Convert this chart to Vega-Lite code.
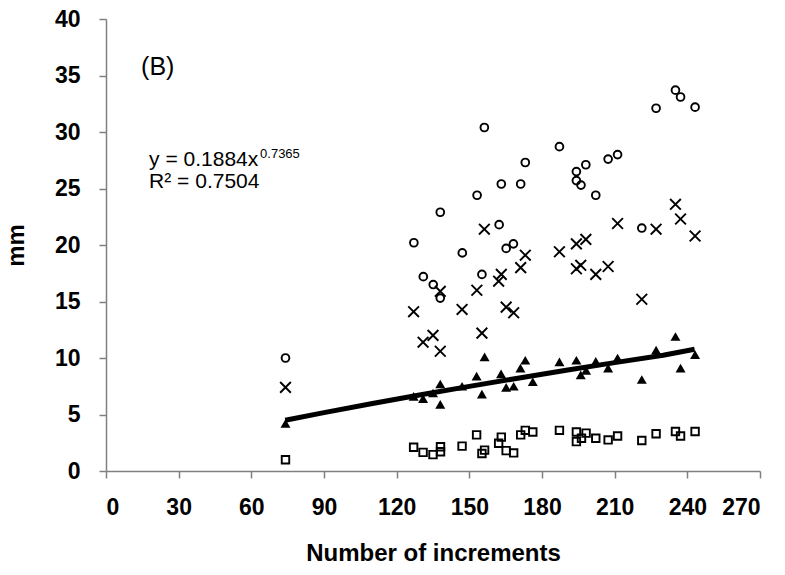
{
  "$schema": "https://vega.github.io/schema/vega-lite/v6.json",
  "width": 654,
  "height": 452,
  "autosize": {"type": "none"},
  "padding": {"left": 106, "top": 19, "right": 25, "bottom": 104},
  "background": "white",
  "config": {
    "view": {"stroke": null},
    "font": "Liberation Sans",
    "axis": {
      "grid": false,
      "domainColor": "#808080",
      "domainWidth": 1.5,
      "tickColor": "#808080",
      "tickWidth": 1.5,
      "tickSize": 7,
      "labelFont": "Liberation Sans",
      "labelFontSize": 23,
      "labelFontWeight": "bold",
      "labelColor": "black",
      "titleFont": "Liberation Sans",
      "titleFontSize": 24,
      "titleFontWeight": "bold",
      "titleColor": "black"
    }
  },
  "datasets": {
    "pts": [
      {"s": "circle", "x": 74.1, "y": 10.0},
      {"s": "circle", "x": 127.1, "y": 20.2},
      {"s": "circle", "x": 131.0, "y": 17.2},
      {"s": "circle", "x": 135.1, "y": 16.5},
      {"s": "circle", "x": 138.0, "y": 15.3},
      {"s": "circle", "x": 138.0, "y": 22.9},
      {"s": "circle", "x": 147.1, "y": 19.3},
      {"s": "circle", "x": 153.2, "y": 24.4},
      {"s": "circle", "x": 155.2, "y": 17.4},
      {"s": "circle", "x": 156.2, "y": 30.4},
      {"s": "circle", "x": 162.3, "y": 21.8},
      {"s": "circle", "x": 163.2, "y": 25.4},
      {"s": "circle", "x": 165.2, "y": 19.7},
      {"s": "circle", "x": 168.2, "y": 20.1},
      {"s": "circle", "x": 171.2, "y": 25.4},
      {"s": "circle", "x": 173.1, "y": 27.3},
      {"s": "circle", "x": 187.2, "y": 28.7},
      {"s": "circle", "x": 194.2, "y": 26.5},
      {"s": "circle", "x": 194.2, "y": 25.7},
      {"s": "circle", "x": 196.1, "y": 25.3},
      {"s": "circle", "x": 198.1, "y": 27.1},
      {"s": "circle", "x": 202.2, "y": 24.4},
      {"s": "circle", "x": 207.3, "y": 27.6},
      {"s": "circle", "x": 211.2, "y": 28.0},
      {"s": "circle", "x": 221.2, "y": 21.5},
      {"s": "circle", "x": 227.1, "y": 32.1},
      {"s": "circle", "x": 235.1, "y": 33.7},
      {"s": "circle", "x": 237.2, "y": 33.1},
      {"s": "circle", "x": 243.2, "y": 32.2},
      {"s": "cross", "x": 74.1, "y": 7.4},
      {"s": "cross", "x": 127.0, "y": 14.1},
      {"s": "cross", "x": 130.9, "y": 11.4},
      {"s": "cross", "x": 135.0, "y": 12.0},
      {"s": "cross", "x": 138.0, "y": 10.6},
      {"s": "cross", "x": 138.0, "y": 15.9},
      {"s": "cross", "x": 147.0, "y": 14.3},
      {"s": "cross", "x": 153.1, "y": 16.0},
      {"s": "cross", "x": 155.2, "y": 12.2},
      {"s": "cross", "x": 156.2, "y": 21.4},
      {"s": "cross", "x": 162.1, "y": 16.8},
      {"s": "cross", "x": 163.2, "y": 17.4},
      {"s": "cross", "x": 165.2, "y": 14.5},
      {"s": "cross", "x": 168.3, "y": 14.0},
      {"s": "cross", "x": 171.2, "y": 18.0},
      {"s": "cross", "x": 173.1, "y": 19.1},
      {"s": "cross", "x": 187.2, "y": 19.4},
      {"s": "cross", "x": 194.2, "y": 20.1},
      {"s": "cross", "x": 194.2, "y": 17.9},
      {"s": "cross", "x": 196.0, "y": 18.2},
      {"s": "cross", "x": 198.1, "y": 20.5},
      {"s": "cross", "x": 202.2, "y": 17.4},
      {"s": "cross", "x": 207.3, "y": 18.1},
      {"s": "cross", "x": 211.2, "y": 21.9},
      {"s": "cross", "x": 221.2, "y": 15.2},
      {"s": "cross", "x": 227.1, "y": 21.4},
      {"s": "cross", "x": 235.1, "y": 23.6},
      {"s": "cross", "x": 237.2, "y": 22.3},
      {"s": "cross", "x": 243.2, "y": 20.8},
      {"s": "triangle", "x": 74.1, "y": 4.2},
      {"s": "triangle", "x": 127.0, "y": 6.6},
      {"s": "triangle", "x": 130.9, "y": 6.4},
      {"s": "triangle", "x": 135.0, "y": 6.9},
      {"s": "triangle", "x": 138.0, "y": 7.7},
      {"s": "triangle", "x": 138.0, "y": 5.9},
      {"s": "triangle", "x": 147.0, "y": 7.5},
      {"s": "triangle", "x": 153.0, "y": 8.4},
      {"s": "triangle", "x": 155.2, "y": 6.8},
      {"s": "triangle", "x": 156.3, "y": 10.1},
      {"s": "triangle", "x": 163.1, "y": 8.6},
      {"s": "triangle", "x": 165.2, "y": 7.4},
      {"s": "triangle", "x": 168.3, "y": 7.5},
      {"s": "triangle", "x": 171.1, "y": 9.1},
      {"s": "triangle", "x": 173.1, "y": 9.8},
      {"s": "triangle", "x": 176.2, "y": 7.9},
      {"s": "triangle", "x": 187.2, "y": 9.65},
      {"s": "triangle", "x": 194.2, "y": 9.8},
      {"s": "triangle", "x": 196.0, "y": 8.5},
      {"s": "triangle", "x": 198.2, "y": 8.9},
      {"s": "triangle", "x": 202.2, "y": 9.7},
      {"s": "triangle", "x": 207.3, "y": 9.1},
      {"s": "triangle", "x": 211.2, "y": 10.0},
      {"s": "triangle", "x": 221.2, "y": 8.1},
      {"s": "triangle", "x": 227.1, "y": 10.7},
      {"s": "triangle", "x": 235.1, "y": 11.9},
      {"s": "triangle", "x": 237.2, "y": 9.1},
      {"s": "triangle", "x": 243.2, "y": 10.3},
      {"s": "square", "x": 74.1, "y": 1.0},
      {"s": "square", "x": 127.0, "y": 2.1},
      {"s": "square", "x": 130.9, "y": 1.65},
      {"s": "square", "x": 135.0, "y": 1.45},
      {"s": "square", "x": 138.1, "y": 2.15},
      {"s": "square", "x": 138.1, "y": 1.7},
      {"s": "square", "x": 147.0, "y": 2.2},
      {"s": "square", "x": 153.0, "y": 3.2},
      {"s": "square", "x": 155.2, "y": 1.55},
      {"s": "square", "x": 156.3, "y": 1.85},
      {"s": "square", "x": 162.1, "y": 2.45},
      {"s": "square", "x": 163.2, "y": 3.0},
      {"s": "square", "x": 165.2, "y": 1.8},
      {"s": "square", "x": 168.3, "y": 1.6},
      {"s": "square", "x": 171.2, "y": 3.2},
      {"s": "square", "x": 173.1, "y": 3.6},
      {"s": "square", "x": 176.2, "y": 3.45},
      {"s": "square", "x": 187.2, "y": 3.6},
      {"s": "square", "x": 194.2, "y": 3.45},
      {"s": "square", "x": 194.2, "y": 2.6},
      {"s": "square", "x": 196.3, "y": 2.9},
      {"s": "square", "x": 198.2, "y": 3.35},
      {"s": "square", "x": 202.2, "y": 2.9},
      {"s": "square", "x": 207.3, "y": 2.75},
      {"s": "square", "x": 211.2, "y": 3.1},
      {"s": "square", "x": 221.2, "y": 2.7},
      {"s": "square", "x": 227.1, "y": 3.3},
      {"s": "square", "x": 235.1, "y": 3.5},
      {"s": "square", "x": 237.2, "y": 3.1},
      {"s": "square", "x": 243.2, "y": 3.5}
    ],
    "fit": [
      {"x": 74, "y": 4.49},
      {"x": 90, "y": 5.17},
      {"x": 110, "y": 5.98},
      {"x": 130, "y": 6.75},
      {"x": 150, "y": 7.49},
      {"x": 170, "y": 8.21},
      {"x": 190, "y": 8.91},
      {"x": 210, "y": 9.59},
      {"x": 230, "y": 10.25},
      {"x": 243, "y": 10.77}
    ],
    "notes": [
      {"t": "(B)", "x": 14.5, "y": 35.07, "k": "big"},
      {"t": "y = 0.1884x", "x": 17.8, "y": 27.0, "k": "eq"},
      {"t": "R² = 0.7504", "x": 17.8, "y": 25.07, "k": "eq"},
      {"t": "0.7365", "x": 63.6, "y": 27.7, "k": "sup"}
    ]
  },
  "encoding": {
    "x": {
      "field": "x",
      "type": "quantitative",
      "scale": {"domain": [0, 270], "nice": false, "zero": false},
      "axis": {
        "values": [0, 30, 60, 90, 120, 150, 180, 210, 240, 270],
        "labelPadding": 18,
        "title": "Number of increments",
        "titlePadding": 22
      }
    },
    "y": {
      "field": "y",
      "type": "quantitative",
      "scale": {"domain": [0, 40], "nice": false, "zero": false},
      "axis": {
        "values": [0, 5, 10, 15, 20, 25, 30, 35, 40],
        "labelPadding": 19,
        "title": "mm",
        "titlePadding": 26
      }
    }
  },
  "layer": [
    {
      "data": {"name": "fit"},
      "mark": {"type": "line", "color": "black", "strokeWidth": 5, "strokeCap": "butt"},
      "encoding": {}
    },
    {
      "data": {"name": "pts"},
      "transform": [{"filter": "datum.s === 'circle'"}],
      "mark": {"type": "point", "shape": "circle", "size": 60, "filled": false, "stroke": "black", "strokeWidth": 1.9, "opacity": 1}
    },
    {
      "data": {"name": "pts"},
      "transform": [{"filter": "datum.s === 'cross'"}],
      "mark": {"type": "point", "shape": "M-1,-1L1,1M-1,1L1,-1", "size": 115, "filled": false, "stroke": "black", "strokeWidth": 1.9, "opacity": 1}
    },
    {
      "data": {"name": "pts"},
      "transform": [{"filter": "datum.s === 'triangle'"}],
      "mark": {"type": "point", "shape": "triangle-up", "size": 100, "filled": true, "fill": "black", "stroke": null, "opacity": 1}
    },
    {
      "data": {"name": "pts"},
      "transform": [{"filter": "datum.s === 'square'"}],
      "mark": {"type": "point", "shape": "square", "size": 56, "filled": false, "stroke": "black", "strokeWidth": 1.9, "opacity": 1}
    },
    {
      "data": {"name": "notes"},
      "transform": [{"filter": "datum.k === 'eq'"}],
      "mark": {"type": "text", "align": "left", "baseline": "alphabetic", "fontSize": 21, "font": "Liberation Sans", "color": "black"},
      "encoding": {"text": {"field": "t"}}
    },
    {
      "data": {"name": "notes"},
      "transform": [{"filter": "datum.k === 'big'"}],
      "mark": {"type": "text", "align": "left", "baseline": "alphabetic", "fontSize": 25, "font": "Liberation Sans", "color": "black"},
      "encoding": {"text": {"field": "t"}}
    },
    {
      "data": {"name": "notes"},
      "transform": [{"filter": "datum.k === 'sup'"}],
      "mark": {"type": "text", "align": "left", "baseline": "alphabetic", "fontSize": 13, "font": "Liberation Sans", "color": "black"},
      "encoding": {"text": {"field": "t"}}
    }
  ]
}
